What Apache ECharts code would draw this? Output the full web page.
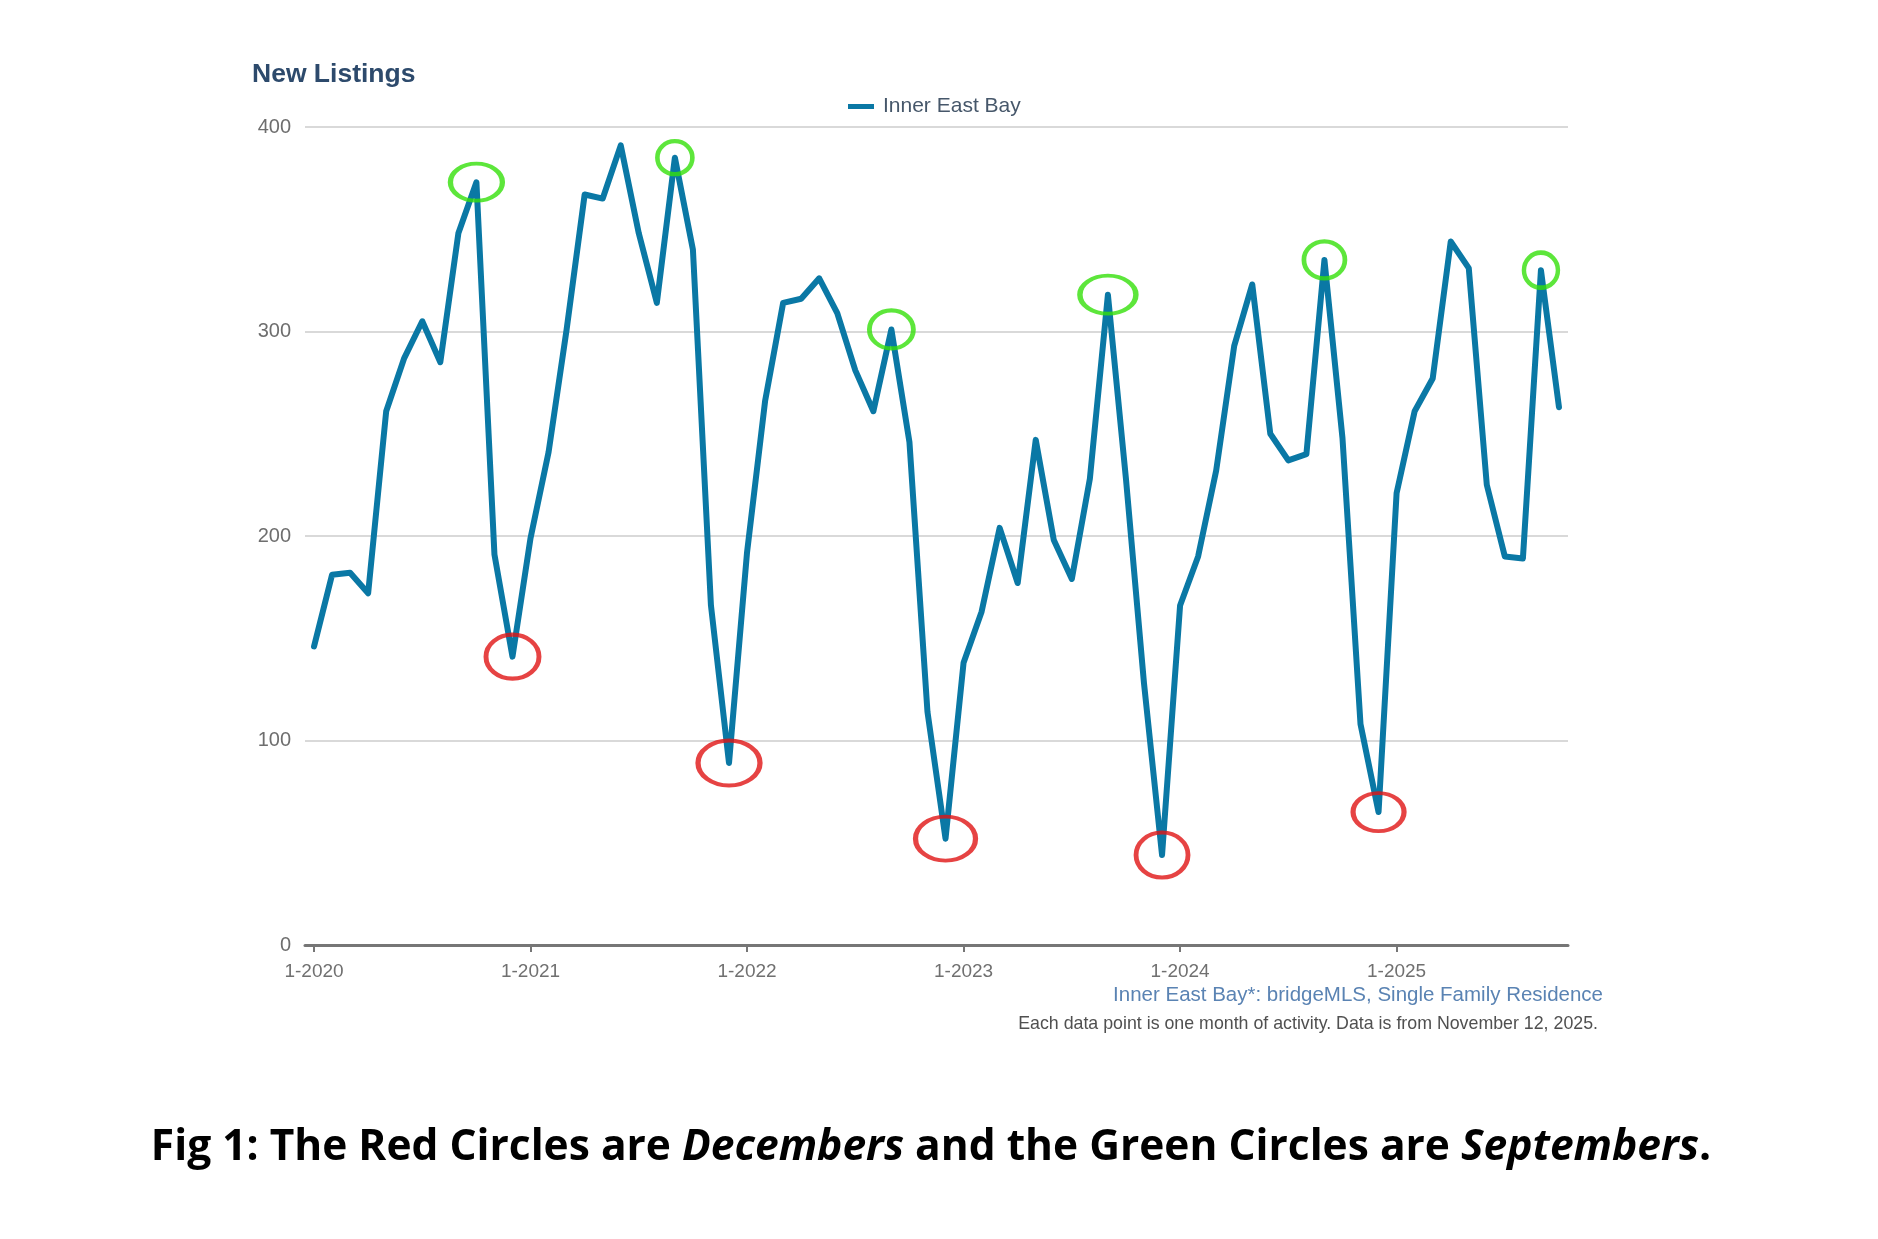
<!DOCTYPE html>
<html>
<head>
<meta charset="utf-8">
<script src="https://cdn.jsdelivr.net/npm/echarts@6/dist/echarts.min.js"></script>
<style>
html,body{margin:0;padding:0;background:#fff;}
#chart{width:1878px;height:1239px;}
</style>
</head>
<body>
<div id="chart"></div>
<script>
// ---- data ----
const years = [2020, 2021, 2022, 2023, 2024, 2025];
const lastMonth2025 = 10; // data through October 2025
const seriesName = 'Inner East Bay';
const newListings = [
  146, 181, 182, 172, 261, 287, 305, 285, 348, 373, 191, 141,
  199, 241, 301, 367, 365, 391, 348, 314, 385, 340, 166, 89,
  192, 266, 314, 316, 326, 309, 281, 261, 301, 246, 114, 52,
  138, 163, 204, 177, 247, 198, 179, 228, 318, 228, 128, 44,
  166, 190, 232, 293, 323, 250, 237, 240, 335, 248, 108, 65,
  221, 261, 277, 344, 331, 225, 190, 189, 330, 263
];
const yTicks = [0, 100, 200, 300, 400];
const greenCircleIdx = [9, 20, 32, 44, 56, 68];
const redCircleIdx = [11, 23, 35, 47, 59];
const titleText = 'New Listings';
const sourceText = 'Inner East Bay*: bridgeMLS, Single Family Residence';
const noteText = 'Each data point is one month of activity. Data is from November 12, 2025.';
const captionParts = ['Fig 1: The Red Circles are ', 'Decembers', ' and the Green Circles are ', 'Septembers', '.'];

// ---- build categories ----
const categories = [];
years.forEach(y => {
  const n = (y === years[years.length - 1]) ? lastMonth2025 : 12;
  for (let m = 1; m <= n; m++) categories.push(m + '-' + y);
});

// circle sizes (style only)
const greenSizes = [[52,37],[35,33],[44,38],[56,38],[41,37],[34,35]];
const redSizes = [[53,44],[62,45],[60,44],[52,45],[51,38]];

const isJan = (i) => i % 12 === 0;

const chart = echarts.init(document.getElementById('chart'), null, {renderer: 'canvas'});
chart.setOption({
  animation: false,
  backgroundColor: '#ffffff',
  title: {
    text: titleText,
    left: 247,
    top: 56,
    textStyle: {fontFamily: 'Liberation Sans', fontSize: 26.5, fontWeight: 'bold', color: '#2d4a6c'}
  },
  legend: {
    data: [seriesName],
    top: 96,
    left: 848,
    icon: 'rect',
    itemWidth: 26,
    itemHeight: 5,
    padding: 0,
    textStyle: {fontFamily: 'Liberation Sans', fontSize: 21, color: '#46576a', padding: [0,0,0,4]}
  },
  grid: {left: 305, right: 310, top: 127, bottom: 294, containLabel: false},
  xAxis: {
    type: 'category',
    data: categories,
    boundaryGap: true,
    axisLine: {lineStyle: {color: '#767676', width: 3}},
    axisTick: {show: true, alignWithLabel: true, interval: isJan, length: 7, lineStyle: {color: '#767676', width: 2}},
    axisLabel: {interval: isJan, color: '#707070', fontFamily: 'Liberation Sans', fontSize: 19, margin: 17},
    splitLine: {show: false}
  },
  yAxis: {
    type: 'value',
    min: yTicks[0],
    max: yTicks[yTicks.length - 1],
    interval: 100,
    axisLine: {show: false},
    axisTick: {show: false},
    axisLabel: {color: '#6e6e6e', fontFamily: 'Liberation Sans', fontSize: 20, margin: 14},
    splitLine: {lineStyle: {color: '#cdcdcd', width: 1.5}}
  },
  series: [
    {
      name: seriesName,
      type: 'line',
      data: newListings,
      showSymbol: false,
      symbol: 'none',
      color: '#0a78a5',
      lineStyle: {color: '#0a78a5', width: 6, join: 'round', cap: 'round'},
      z: 3
    },
    {
      name: 'sept',
      type: 'scatter',
      silent: true,
      z: 4,
      symbol: 'circle',
      itemStyle: {color: 'rgba(0,0,0,0)', borderColor: '#35e00a', borderWidth: 4.5},
      data: greenCircleIdx.map((i, k) => ({value: [i, newListings[i]], symbolSize: greenSizes[k]}))
    },
    {
      name: 'dec',
      type: 'scatter',
      silent: true,
      z: 4,
      symbol: 'circle',
      itemStyle: {color: 'rgba(0,0,0,0)', borderColor: '#e01414', borderWidth: 4.5},
      data: redCircleIdx.map((i, k) => ({value: [i, newListings[i]], symbolSize: redSizes[k]}))
    }
  ],
  graphic: [
    {
      type: 'text', right: 275, top: 985,
      style: {text: sourceText, fill: '#5a83b3', font: '20.5px "Liberation Sans"', textAlign: 'right'}
    },
    {
      type: 'text', right: 280, top: 1015,
      style: {text: noteText, fill: '#505050', font: '17.8px "Liberation Sans"', textAlign: 'right'}
    },
    {
      type: 'text', x: 931, y: 1148,
      style: {
        text: '{n|' + captionParts[0] + '}{i|' + captionParts[1] + '}{n|' + captionParts[2] + '}{i|' + captionParts[3] + '}{n|' + captionParts[4] + '}',
        align: 'center',
        verticalAlign: 'middle',
        rich: {
          n: {fontFamily: 'Open Sans', fontWeight: 'bold', fontSize: 42.5, fill: '#000000', color: '#000000'},
          i: {fontFamily: 'Open Sans', fontWeight: 'bold', fontStyle: 'italic', fontSize: 42.5, fill: '#000000', color: '#000000'}
        }
      }
    }
  ]
});
</script>
</body>
</html>
